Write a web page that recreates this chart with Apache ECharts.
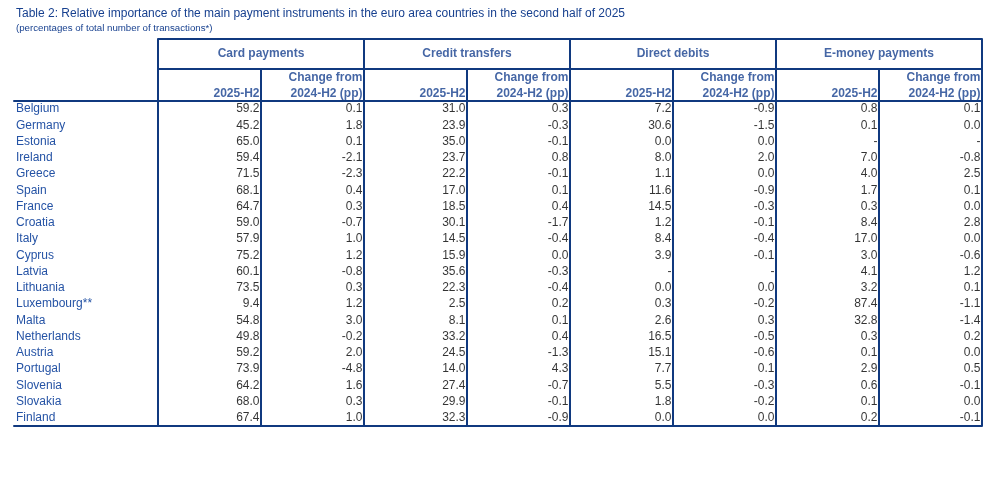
<!DOCTYPE html>
<html lang="en">
<head>
<meta charset="UTF-8">
<title>Table 2</title>
<script src="https://cdn.jsdelivr.net/npm/echarts@6/dist/echarts.min.js"></script>
<style>
  html, body { margin: 0; padding: 0; background: #fff; }
  #main { width: 985px; height: 497px; }
</style>
</head>
<body>
<div id="main"></div>
<script type="text/javascript">
var countries = ['Belgium', 'Germany', 'Estonia', 'Ireland', 'Greece', 'Spain', 'France', 'Croatia', 'Italy', 'Cyprus',
    'Latvia', 'Lithuania', 'Luxembourg**', 'Malta', 'Netherlands', 'Austria', 'Portugal', 'Slovenia', 'Slovakia', 'Finland'];

var groups = ['Card payments', 'Credit transfers', 'Direct debits', 'E-money payments'];
var subHeads = ['2025-H2', 'Change from\n2024-H2 (pp)'];

var cardShare = [59.2, 45.2, 65.0, 59.4, 71.5, 68.1, 64.7, 59.0, 57.9, 75.2, 60.1, 73.5, 9.4, 54.8, 49.8, 59.2, 73.9, 64.2, 68.0, 67.4];
var cardChange = [0.1, 1.8, 0.1, -2.1, -2.3, 0.4, 0.3, -0.7, 1.0, 1.2, -0.8, 0.3, 1.2, 3.0, -0.2, 2.0, -4.8, 1.6, 0.3, 1.0];
var creditShare = [31.0, 23.9, 35.0, 23.7, 22.2, 17.0, 18.5, 30.1, 14.5, 15.9, 35.6, 22.3, 2.5, 8.1, 33.2, 24.5, 14.0, 27.4, 29.9, 32.3];
var creditChange = [0.3, -0.3, -0.1, 0.8, -0.1, 0.1, 0.4, -1.7, -0.4, 0.0, -0.3, -0.4, 0.2, 0.1, 0.4, -1.3, 4.3, -0.7, -0.1, -0.9];
var debitShare = [7.2, 30.6, 0.0, 8.0, 1.1, 11.6, 14.5, 1.2, 8.4, 3.9, null, 0.0, 0.3, 2.6, 16.5, 15.1, 7.7, 5.5, 1.8, 0.0];
var debitChange = [-0.9, -1.5, 0.0, 2.0, 0.0, -0.9, -0.3, -0.1, -0.4, -0.1, null, 0.0, -0.2, 0.3, -0.5, -0.6, 0.1, -0.3, -0.2, 0.0];
var emoneyShare = [0.8, 0.1, null, 7.0, 4.0, 1.7, 0.3, 8.4, 17.0, 3.0, 4.1, 3.2, 87.4, 32.8, 0.3, 0.1, 2.9, 0.6, 0.1, 0.2];
var emoneyChange = [0.1, 0.0, null, -0.8, 2.5, 0.1, 0.0, 2.8, 0.0, -0.6, 1.2, 0.1, -1.1, -1.4, 0.2, 0.0, 0.5, -0.1, 0.0, -0.1];

var columns = [cardShare, cardChange, creditShare, creditChange, debitShare, debitChange, emoneyShare, emoneyChange];

var navy = '#10397f';
var headBlue = '#17408f';
var font = 'Arial, "Liberation Sans", sans-serif';
// country column is about 1.4 data columns wide
var bodyMin = -1.398;

var myChart = echarts.init(document.getElementById('main'));

var lineStyle = {color: navy, width: 2, type: 'solid'};

var series = [];

// header: group names and column sub headers
series.push({
    type: 'scatter',
    xAxisIndex: 0,
    yAxisIndex: 0,
    symbolSize: 1,
    itemStyle: {color: 'transparent'},
    silent: true,
    data: groups.map(function (g, i) {
        return {value: [i * 2 + 1, 47], text: g};
    }),
    label: {
        show: true, position: 'inside', color: headBlue, fontWeight: 'bold',
        fontSize: 12, fontFamily: font,
        formatter: function (p) { return p.data.text; }
    },
    markLine: {
        silent: true, symbol: 'none', label: {show: false}, lineStyle: lineStyle,
        data: [0, 2, 4, 6, 8].map(function (x) { return {xAxis: x}; })
            .concat([1, 3, 5, 7].map(function (x) { return [{coord: [x, 0]}, {coord: [x, 32]}]; }))
            .concat([{yAxis: 32}])
    }
});

var headCells = [];
for (var k = 0; k < 8; k++) {
    var isChange = k % 2 === 1;
    headCells.push({value: [k + 1, isChange ? 15 : 7], text: subHeads[k % 2]});
}
series.push({
    type: 'scatter',
    xAxisIndex: 0,
    yAxisIndex: 0,
    symbolSize: 1,
    itemStyle: {color: 'transparent'},
    silent: true,
    data: headCells,
    label: {
        show: true, position: 'left', distance: 1, color: headBlue, fontWeight: 'bold',
        fontSize: 12, fontFamily: font, align: 'right', lineHeight: 16,
        formatter: function (p) { return p.data.text; }
    }
});

// body cells
columns.forEach(function (col, k) {
    var s = {
        type: 'scatter',
        xAxisIndex: 1,
        yAxisIndex: 1,
        symbolSize: 1,
        itemStyle: {color: 'transparent'},
        silent: true,
        data: col.map(function (v, i) {
            return {value: [k + 1, countries[i]], text: v == null ? '-' : v.toFixed(1)};
        }),
        label: {
            show: true, position: 'left', distance: 1, color: '#000',
            fontSize: 12, fontFamily: font,
            formatter: function (p) { return p.data.text; }
        }
    };
    if (k === 0) {
        s.markLine = {
            silent: true, symbol: 'none', label: {show: false}, lineStyle: lineStyle,
            data: [0, 1, 2, 3, 4, 5, 6, 7, 8].map(function (x) { return {xAxis: x}; })
        };
    }
    series.push(s);
});

var option = {
    animation: false,
    backgroundColor: '#fff',
    title: {
        text: 'Table 2: Relative importance of the main payment instruments in the euro area countries in the second half of 2025',
        subtext: '(percentages of total number of transactions*)',
        left: 11,
        top: 8,
        itemGap: 3,
        padding: [0, 5],
        textStyle: {fontSize: 12, fontWeight: 'normal', color: headBlue, fontFamily: font},
        subtextStyle: {fontSize: 9.7, color: headBlue, fontFamily: font}
    },
    grid: [
        {left: 158, right: 3, top: 39, height: 62},
        {left: 14, right: 3, top: 101, bottom: 71}
    ],
    xAxis: [
        {
            gridIndex: 0, type: 'value', min: 0, max: 8, position: 'top',
            axisLine: {show: true, onZero: false, lineStyle: lineStyle},
            axisTick: {show: false}, axisLabel: {show: false}, splitLine: {show: false}
        },
        {
            gridIndex: 1, type: 'value', min: bodyMin, max: 8, position: 'top',
            axisLine: {show: true, onZero: false, lineStyle: lineStyle},
            axisTick: {show: false}, axisLabel: {show: false}, splitLine: {show: false}
        },
        {
            gridIndex: 1, type: 'value', min: bodyMin, max: 8, position: 'bottom',
            axisLine: {show: true, onZero: false, lineStyle: lineStyle},
            axisTick: {show: false}, axisLabel: {show: false}, splitLine: {show: false}
        }
    ],
    yAxis: [
        {
            gridIndex: 0, type: 'value', min: 0, max: 62, show: false
        },
        {
            gridIndex: 1, type: 'category', data: countries, inverse: true,
            axisLine: {show: false}, axisTick: {show: false}, splitLine: {show: false},
            axisLabel: {inside: true, margin: 2, color: '#2553a5', fontSize: 12, fontFamily: font}
        }
    ],
    series: series
};

myChart.setOption(option);
</script>
</body>
</html>
